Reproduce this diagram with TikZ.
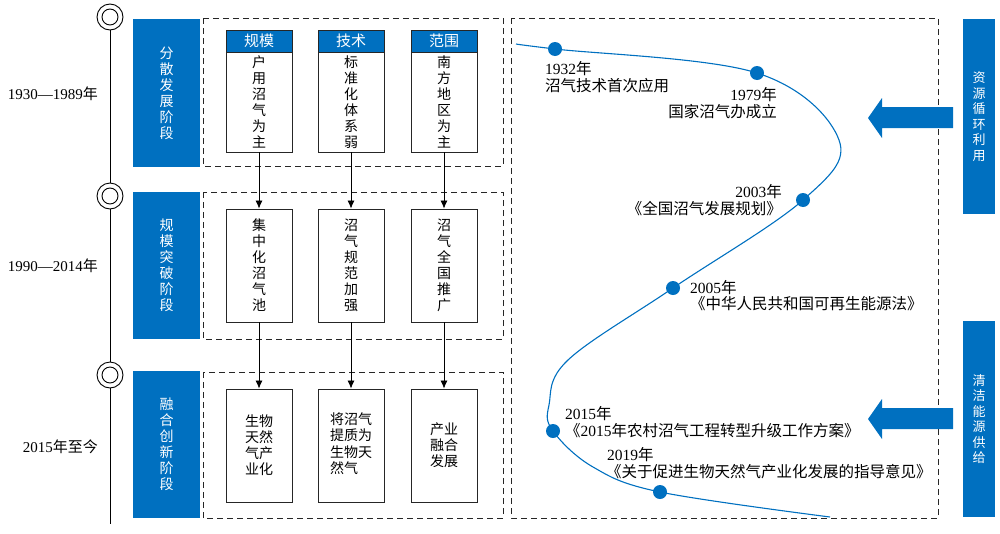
\documentclass[tikz,border=0pt]{standalone}
\usepackage{fontspec}
\setmainfont{Liberation Serif}
\newfontfamily\cjk{Noto Sans CJK SC}
\usetikzlibrary{arrows.meta}
\definecolor{myblue}{RGB}{0,112,192}
\begin{document}
\begin{tikzpicture}[x=1pt,y=-1pt,
  stagebox/.style={fill=myblue, text=white, minimum width=67pt, inner sep=0pt, font=\cjk\fontsize{14}{16}\selectfont, align=center},
  sidebox/.style={fill=myblue, text=white, minimum width=32pt, inner sep=0pt, font=\cjk\fontsize{13}{15.5}\selectfont, align=center},
  cell/.style={draw=black!85, line width=0.9pt, minimum width=66pt, inner sep=0pt, font=\cjk\fontsize{14}{16}\selectfont, align=center},
  head/.style={draw=black!85, line width=0.9pt, fill=myblue, text=white, minimum width=66pt, minimum height=22pt, inner sep=0pt, font=\cjk\fontsize{15}{16}\selectfont},
  dbox/.style={draw=black!85, line width=0.9pt, dash pattern=on 6pt off 4pt},
  conn/.style={line width=0.8pt, -{Latex[length=8pt,width=7pt]}},
  tl/.style={line width=0.9pt},
  ring/.style={circle, draw, line width=0.9pt, fill=white, minimum size=26pt, inner sep=0pt},
  dot/.style={circle, fill=myblue, minimum size=14pt, inner sep=0pt},
  yr/.style={font=\fontsize{15}{17}\selectfont, inner sep=0pt},
  cl/.style={font=\fontsize{15.5}{17}\selectfont, inner sep=0pt},
  barrow/.style={fill=myblue}
]
\useasboundingbox (0,0) rectangle (1000,533);

% timeline
\node[ring] (c1) at (110,17) {};
\node[ring] (c2) at (110,196) {};
\node[ring] (c3) at (110,375) {};
\coordinate (tend) at (110,524);
\draw[tl] (c1) -- (c2);
\draw[tl] (c2) -- (c3);
\draw[tl] (c3) -- (tend);
\foreach \c in {c1,c2,c3} \draw[tl] (\c.center) circle[radius=8pt];

% year labels
\node[yr, anchor=base east] (y1) at (98,99) {1930—1989{\cjk 年}};
\node[yr, anchor=base east] (y2) at (98,271) {1990—2014{\cjk 年}};
\node[yr, anchor=base east] (y3) at (98,452) {2015{\cjk 年至今}};

% stage boxes
\node[stagebox, minimum height=148pt] (s1) at (166.5,93) {分\\散\\发\\展\\阶\\段};
\node[stagebox, minimum height=147pt] (s2) at (166.5,265.5) {规\\模\\突\\破\\阶\\段};
\node[stagebox, minimum height=147pt] (s3) at (166.5,444.5) {融\\合\\创\\新\\阶\\段};

% dashed groups
\draw[dbox] (203,18) rectangle (503,166);
\draw[dbox] (203,192) rectangle (503,339);
\draw[dbox] (203,372) rectangle (503,518);
\draw[dbox] (511,18) rectangle (938,518);

% row 1
\node[head] (h1) at (259,41) {规模};
\node[head] (h2) at (351,41) {技术};
\node[head] (h3) at (444,41) {范围};
\node[cell, minimum height=100pt] (b11) at (259,102) {户\\用\\沼\\气\\为\\主};
\node[cell, minimum height=100pt] (b12) at (351,102) {标\\准\\化\\体\\系\\弱};
\node[cell, minimum height=100pt] (b13) at (444,102) {南\\方\\地\\区\\为\\主};

% row 2
\node[cell, minimum height=113pt] (b21) at (259,265.5) {集\\中\\化\\沼\\气\\池};
\node[cell, minimum height=113pt] (b22) at (351,265.5) {沼\\气\\规\\范\\加\\强};
\node[cell, minimum height=113pt] (b23) at (444,265.5) {沼\\气\\全\\国\\推\\广};

% row 3
\node[cell, minimum height=113pt] (b31) at (259,445.5) {生物\\天然\\气产\\业化};
\node[cell, minimum height=113pt] (b32) at (351,445.5) {\begin{tabular}{@{}l@{}}将沼气\\提质为\\生物天\\然气\end{tabular}};
\node[cell, minimum height=113pt] (b33) at (444,445.5) {产业\\融合\\发展};

% connectors
\draw[conn] (b11.south) -- (b21.north);
\draw[conn] (b12.south) -- (b22.north);
\draw[conn] (b13.south) -- (b23.north);
\draw[conn] (b21.south) -- (b31.north);
\draw[conn] (b22.south) -- (b32.north);
\draw[conn] (b23.south) -- (b33.north);

% curve
\draw[myblue, line width=1.1pt] plot[smooth, tension=0.6] coordinates {(516,44) (555,49) (757,73) (839,140) (803,200) (673,288) (568,360) (549,405) (553,431) (593,467) (660,492) (830,517)};
\node[dot] (d1) at (555,49) {};
\node[dot] (d2) at (757,73) {};
\node[dot] (d3) at (803,200) {};
\node[dot] (d4) at (673,288) {};
\node[dot] (d5) at (553,431) {};
\node[dot] (d6) at (660,492) {};

% curve labels
\node[cl, anchor=base west] (l1a) at (545,74) {1932{\cjk 年}};
\node[cl, anchor=base west] (l1b) at (545,91) {\cjk 沼气技术首次应用};
\node[cl, anchor=base east] (l2a) at (777,100) {1979{\cjk 年}};
\node[cl, anchor=base east] (l2b) at (777,117) {\cjk 国家沼气办成立};
\node[cl, anchor=base east] (l3a) at (782,197) {2003{\cjk 年}};
\node[cl, anchor=base east] (l3b) at (782,214) {\cjk 《全国沼气发展规划》};
\node[cl, anchor=base west] (l4a) at (690,293) {2005{\cjk 年}};
\node[cl, anchor=base west] (l4b) at (690,309) {\cjk 《中华人民共和国可再生能源法》};
\node[cl, anchor=base west] (l5a) at (565,419) {2015{\cjk 年}};
\node[cl, anchor=base west] (l5b) at (565,436) {{\cjk 《}2015{\cjk 年农村沼气工程转型升级工作方案》}};
\node[cl, anchor=base west] (l6a) at (607,460) {2019{\cjk 年}};
\node[cl, anchor=base west] (l6b) at (606,477) {\cjk 《关于促进生物天然气产业化发展的指导意见》};

% side boxes
\node[sidebox, minimum height=195pt] (r1) at (979,116.5) {资\\源\\循\\环\\利\\用};
\node[sidebox, minimum height=196pt] (r2) at (979,419) {清\\洁\\能\\源\\供\\给};

% block arrows
\fill[barrow] (953,107) -- (882,107) -- (882,98) -- (868,118) -- (882,138) -- (882,128) -- (953,128) -- cycle;
\fill[barrow] (953,408) -- (882,408) -- (882,399) -- (868,419) -- (882,439) -- (882,429) -- (953,429) -- cycle;
\end{tikzpicture}
\end{document}
